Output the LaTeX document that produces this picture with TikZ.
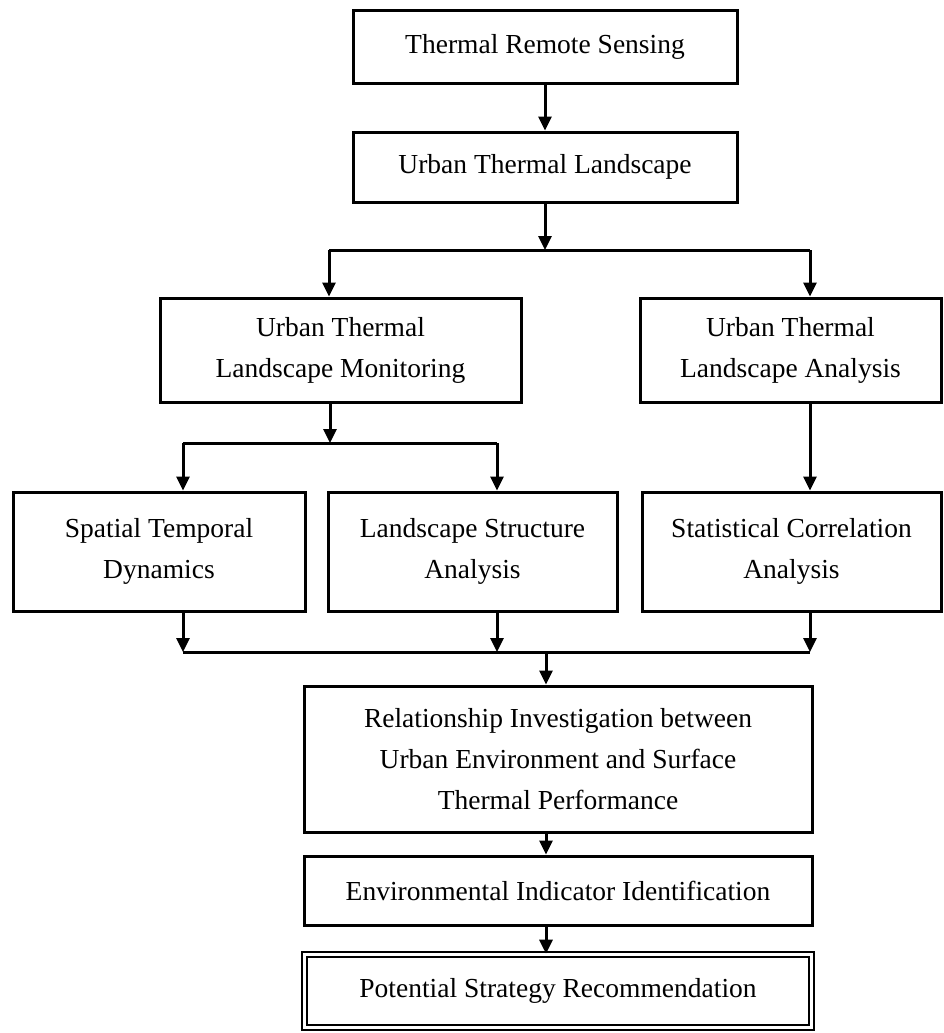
\documentclass[tikz,border=0pt]{standalone}
\usepackage{fontspec}
\setmainfont{Liberation Serif}
\usetikzlibrary{arrows.meta}

\begin{document}
\begin{tikzpicture}[
    x=1pt, y=1pt,
    box/.style={draw=black, line width=3pt, fill=white, inner sep=0pt, align=center, font=\fontsize{27.5}{41}\selectfont},
    endbox/.style={box, line width=1.6pt, double=white, double distance=3pt},
    arr/.style={-{Triangle[width=13pt, length=14pt]}, line width=3pt},
    link/.style={line width=3pt}
]
\useasboundingbox (0,0) rectangle (943,-1033);

% Nodes
\node[box, minimum width=384, minimum height=72] (trs) at (545, -47) {Thermal Remote Sensing};
\node[box, minimum width=384, minimum height=70] (utl) at (545, -167) {Urban Thermal Landscape};
\node[box, minimum width=361, minimum height=104] (mon) at (340.5, -350) {Urban Thermal\\Landscape Monitoring};
\node[box, minimum width=301, minimum height=104] (ana) at (790.5, -350) {Urban Thermal\\Landscape Analysis};
\node[box, minimum width=292, minimum height=119] (std) at (159, -551.5) {Spatial Temporal\\Dynamics};
\node[box, minimum width=289, minimum height=119] (lsa) at (472.5, -551.5) {Landscape Structure\\Analysis};
\node[box, minimum width=299, minimum height=119] (sca) at (791.5, -551.5) {Statistical Correlation\\Analysis};
\node[box, minimum width=508, minimum height=146] (rel) at (558, -759) {Relationship Investigation between\\Urban Environment and Surface\\Thermal Performance};
\node[box, minimum width=508, minimum height=69] (eii) at (558, -890.5) {Environmental Indicator Identification};
\node[endbox, minimum width=507, minimum height=73] (psr) at (558, -991) {Potential Strategy Recommendation};

% Junctions
\coordinate (split) at (545, -250);
\coordinate (splitL) at (329, -250);
\coordinate (splitR) at (810, -250);
\coordinate (mon-j) at (330, -443);
\coordinate (mon-jL) at (183, -443);
\coordinate (mon-jR) at (497, -443);
\coordinate (merge) at (546, -652);
\coordinate (mergeL) at (183, -652);
\coordinate (mergeM) at (497, -652);
\coordinate (mergeR) at (810, -652);

% Top
\draw[arr] (trs) -- (utl);
\draw[arr] (utl) -- (split);
\draw[link] (splitL) -- (splitR);
\draw[arr] (splitL) -- (splitL |- mon.north);
\draw[arr] (splitR) -- (splitR |- ana.north);

% Middle
\draw[arr] (mon-j |- mon.south) -- (mon-j);
\draw[link] (mon-jL) -- (mon-jR);
\draw[arr] (mon-jL) -- (mon-jL |- std.north);
\draw[arr] (mon-jR) -- (mon-jR |- lsa.north);
\draw[arr] (splitR |- ana.south) -- (splitR |- sca.north);

% Bottom
\draw[arr] (mergeL |- std.south) -- (mergeL);
\draw[arr] (mergeM |- lsa.south) -- (mergeM);
\draw[arr] (mergeR |- sca.south) -- (mergeR);
\draw[link] (mergeL) -- (mergeR);
\draw[arr] (merge) -- (merge |- rel.north);
\draw[arr] (merge |- rel.south) -- (merge |- eii.north);
\draw[arr] (merge |- eii.south) -- (merge |- psr.north);

\end{tikzpicture}
\end{document}
